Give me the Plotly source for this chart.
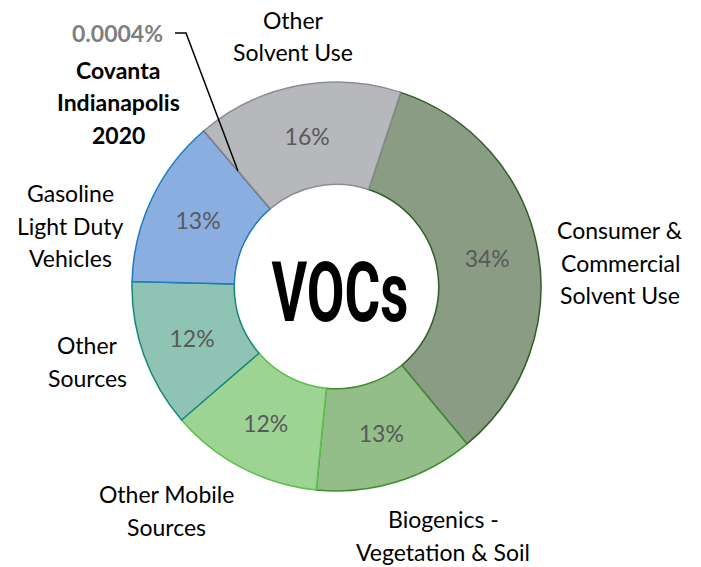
import plotly.graph_objects as go

# ---- data ----
categories = ["Consumer & Commercial Solvent Use", "Biogenics - Vegetation & Soil",
              "Other Mobile Sources", "Other Sources", "Gasoline Light Duty Vehicles",
              "Covanta Indianapolis 2020", "Other Solvent Use"]
values = [33.9, 12.6, 12.1, 11.7, 13.4, 0.0004, 16.3]
pct_labels = ["34%", "13%", "12%", "12%", "13%", "", "16%"]
outside_labels = [["Consumer &", "Commercial", "Solvent Use"], ["Biogenics -", "Vegetation & Soil"],
                  ["Other Mobile", "Sources"], ["Other", "Sources"], ["Gasoline", "Light Duty", "Vehicles"],
                  ["<b>Covanta</b>", "<b>Indianapolis</b>", "<b>2020</b>"], ["Other", "Solvent Use"]]
covanta_pct = "0.0004%"
center_title = "VOCs"

# ---- styles / layout ----
fill_colors = ["#8b9c85", "#93bd89", "#9dd494", "#8fc4b5", "#8aaee0", "#000000", "#b7b8bc"]
line_colors = ["#2f5f22", "#3e8e30", "#5cbf4a", "#15877c", "#1a7cc2", "#000000", "#8a8d93"]
W, H = 701, 567
LINE_GAP = 32.5
label_first_line = [(620, 230), (443, 519), (166, 494), (87, 345), (70, 193), (118, 70), (293, 20)]


def px(x):
    return x / W


def py(y):
    return 1 - y / H


fig = go.Figure(go.Pie(
    labels=categories, values=values, text=pct_labels,
    textinfo="text", textposition="inside", insidetextorientation="horizontal",
    textfont=dict(family="Lato", size=23, color="#595959"),
    sort=False, direction="clockwise", rotation=18.3, hole=0.5,
    marker=dict(colors=fill_colors, line=dict(color=line_colors, width=1.5)),
    domain=dict(x=[132 / W, 541 / W], y=[76 / H, 485 / H]),
    showlegend=False, hoverinfo="label+percent",
))

annotations = []
for lines, (x, y0) in zip(outside_labels, label_first_line):
    for i, line in enumerate(lines):
        annotations.append(dict(text=line, x=px(x), y=py(y0 + i * LINE_GAP), xref="paper", yref="paper",
                                showarrow=False, xanchor="center", yanchor="middle",
                                font=dict(family="Lato", size=23, color="#000000")))
annotations.append(dict(text="<b>" + covanta_pct + "</b>", x=px(117), y=py(33), xref="paper", yref="paper",
                        showarrow=False, xanchor="center", yanchor="middle",
                        font=dict(family="Lato", size=23, color="#7f7f7f")))
annotations.append(dict(text="<b>" + center_title + "</b>", x=px(340), y=py(292), xref="paper", yref="paper",
                        showarrow=False, xanchor="center", yanchor="middle",
                        font=dict(family="Roboto", size=83, color="#000000")))

fig.update_layout(
    width=W, height=H, margin=dict(l=0, r=0, t=0, b=0),
    paper_bgcolor="white", plot_bgcolor="white",
    annotations=annotations,
    shapes=[dict(type="path", xref="paper", yref="paper",
                 path=f"M {px(175)} {py(33)} L {px(186)} {py(33)} L {px(238)} {py(171)}",
                 line=dict(color="black", width=1.5))],
)

post_js = """
document.body.style.margin = '0';
var ts = document.querySelectorAll('text.annotation-text');
ts.forEach(function(t){
  if (t.textContent === 'VOCs') {
    var b = t.getBBox();
    var s = 137 / b.width;
    t.style.transformBox = 'fill-box';
    t.style.transformOrigin = 'center';
    t.style.transform = 'scaleX(' + s + ')';
  }
});
"""

fig.write_html("out.html", post_script=post_js, config={"displayModeBar": False})
